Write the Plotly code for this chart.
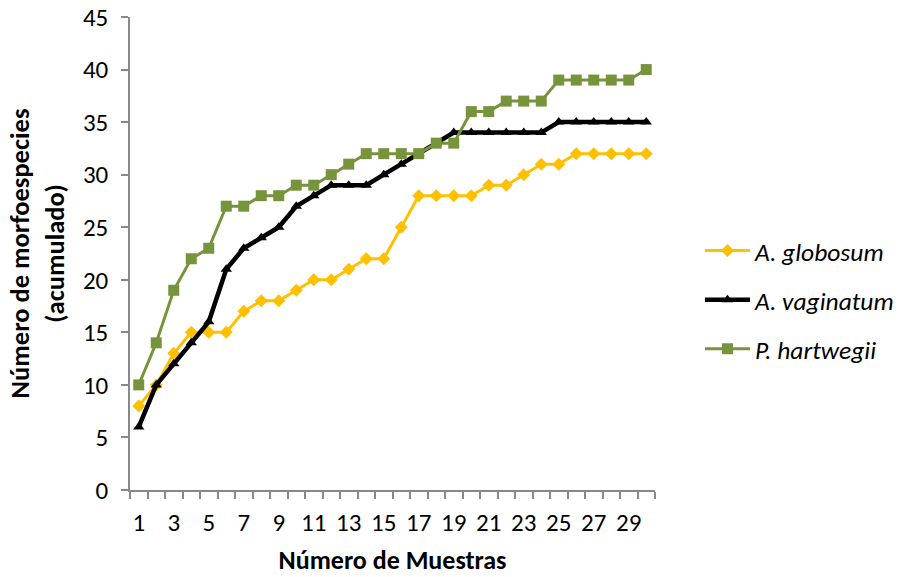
import plotly.graph_objects as go

muestras = list(range(1, 31))
globosum = [8, 10, 13, 15, 15, 15, 17, 18, 18, 19, 20, 20, 21, 22, 22, 25, 28, 28, 28, 28,
            29, 29, 30, 31, 31, 32, 32, 32, 32, 32]
vaginatum = [6, 10, 12, 14, 16, 21, 23, 24, 25, 27, 28, 29, 29, 29, 30, 31, 32, 33, 34, 34,
             34, 34, 34, 34, 35, 35, 35, 35, 35, 35]
hartwegii = [10, 14, 19, 22, 23, 27, 27, 28, 28, 29, 29, 30, 31, 32, 32, 32, 32, 33, 33, 36,
             36, 37, 37, 37, 39, 39, 39, 39, 39, 40]
x_ticks = list(range(1, 30, 2))
y_ticks = list(range(0, 46, 5))

FONT = "Carlito, Calibri, Lato, sans-serif"

fig = go.Figure()
fig.add_trace(go.Scatter(x=muestras, y=globosum, name="<i>A. globosum</i>", mode="lines+markers",
                         line=dict(color="#FFC000", width=3),
                         marker=dict(symbol="diamond", size=10, color="#FFC000"),
                         legendgroup="a"))
fig.add_trace(go.Scatter(x=muestras, y=vaginatum, name="<i>A. vaginatum</i>", mode="lines+markers",
                         line=dict(color="#000000", width=4.5),
                         marker=dict(symbol="triangle-up", size=10, color="#000000"),
                         legendgroup="b"))
fig.add_trace(go.Scatter(x=muestras, y=hartwegii, name="<i>P. hartwegii</i>", mode="lines+markers",
                         line=dict(color="#77933C", width=3),
                         marker=dict(symbol="square", size=11, color="#77933C"),
                         legendgroup="c"))

fig.update_layout(
    width=902, height=577,
    margin=dict(l=130, r=247, t=17, b=87, autoexpand=False),
    paper_bgcolor="white", plot_bgcolor="white",
    font=dict(family=FONT, size=25, color="#000000"),
    legend=dict(x=1.0857, xanchor="left", y=0.4017, yanchor="middle", xref="paper",
                font=dict(size=25.5), tracegroupgap=13, traceorder="grouped",
                itemwidth=45, bgcolor="rgba(0,0,0,0)"),
    xaxis=dict(range=[0.5, 30.5], tickmode="array", tickvals=x_ticks, automargin=False,
               ticktext=[str(v) for v in x_ticks], ticks="", ticklabelstandoff=9,
               showgrid=False, zeroline=False, showline=True, linecolor="#888888", linewidth=1.5,
               minor=dict(tickmode="linear", tick0=0.5, dtick=1, ticks="outside", ticklen=7,
                          tickcolor="#888888", tickwidth=1.5, showgrid=False),
               title=dict(text="<b>Número de Muestras</b>", font=dict(size=26), standoff=14)),
    yaxis=dict(range=[0, 45], tickmode="array", tickvals=y_ticks, ticks="outside", ticklen=7,
               automargin=False,
               tickcolor="#888888", tickwidth=1.5, showgrid=False, zeroline=False,
               showline=True, linecolor="#888888", linewidth=1.5, ticklabelstandoff=8,
               ticklabeloverflow="allow",
               title=dict(text="<b>Número de morfoespecies<br>(acumulado)</b>",
                          font=dict(size=26.5), standoff=11)),
)
fig.write_html("out.html", config={"displayModeBar": False},
               post_script="document.body.style.margin='0';document.body.style.padding='0';")
